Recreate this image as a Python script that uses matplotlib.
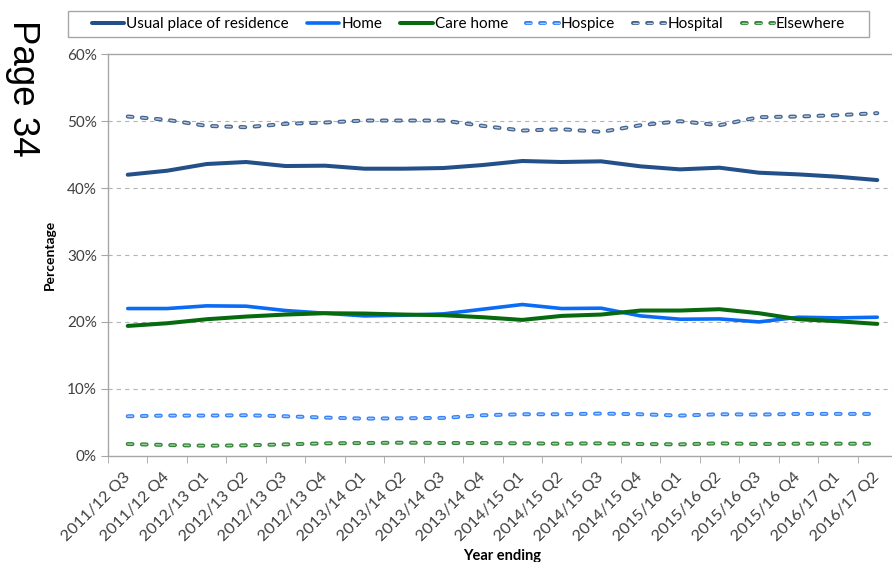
import matplotlib
matplotlib.use("Agg")
import matplotlib.pyplot as plt
from matplotlib.patches import Rectangle
from matplotlib.ticker import FixedLocator, FuncFormatter

plt.rcParams['font.family'] = ['Lato', 'DejaVu Sans']
plt.rcParams['lines.scale_dashes'] = False

quarters = [
    "2011/12 Q3", "2011/12 Q4", "2012/13 Q1", "2012/13 Q2", "2012/13 Q3",
    "2012/13 Q4", "2013/14 Q1", "2013/14 Q2", "2013/14 Q3", "2013/14 Q4",
    "2014/15 Q1", "2014/15 Q2", "2014/15 Q3", "2014/15 Q4", "2015/16 Q1",
    "2015/16 Q2", "2015/16 Q3", "2015/16 Q4", "2016/17 Q1", "2016/17 Q2",
]

usual_residence = [42.0, 42.6, 43.6, 43.9, 43.3, 43.35, 42.9, 42.9, 43.0, 43.45,
                   44.05, 43.9, 44.0, 43.25, 42.8, 43.05, 42.3, 42.05, 41.7, 41.2]
home = [22.0, 22.0, 22.4, 22.35, 21.7, 21.3, 20.9, 21.0, 21.2, 21.9,
        22.6, 22.0, 22.05, 20.9, 20.4, 20.45, 20.0, 20.7, 20.6, 20.7]
care_home = [19.4, 19.8, 20.4, 20.8, 21.1, 21.3, 21.25, 21.1, 21.0, 20.7,
             20.3, 20.9, 21.1, 21.7, 21.7, 21.9, 21.3, 20.4, 20.1, 19.7]
hospice = [5.9, 6.0, 6.0, 6.05, 5.9, 5.7, 5.55, 5.6, 5.65, 6.05,
           6.2, 6.2, 6.3, 6.2, 6.0, 6.2, 6.15, 6.25, 6.25, 6.25]
hospital = [50.7, 50.2, 49.3, 49.1, 49.6, 49.8, 50.1, 50.1, 50.1, 49.3,
            48.6, 48.8, 48.4, 49.4, 50.0, 49.4, 50.6, 50.7, 50.9, 51.2]
elsewhere = [1.75, 1.6, 1.5, 1.55, 1.7, 1.85, 1.9, 1.95, 1.9, 1.9,
             1.85, 1.8, 1.85, 1.75, 1.7, 1.85, 1.75, 1.8, 1.8, 1.8]

DASH = (0, (3.4, 6.8))


def outlined_dash(ax, x, y, edge, fill):
    # dark rounded dash with a pale core, drawn as two stacked lines
    outer, = ax.plot(x, y, color=edge, lw=2.9, linestyle=DASH,
                     dash_capstyle='round', solid_capstyle='round')
    inner, = ax.plot(x, y, color=fill, lw=1.0, linestyle=DASH,
                     dash_capstyle='round', solid_capstyle='round')
    return (outer, inner)


def main():
    W, H = 892, 562
    fig = plt.figure(figsize=(W / 100, H / 100), dpi=100)
    ax = fig.add_axes([0.1211, 0.1891, 0.8845, 0.7143])
    x = list(range(len(quarters)))

    h_usual, = ax.plot(x, usual_residence, color='#24508A', lw=2.9,
                       solid_capstyle='round', solid_joinstyle='round')
    h_home, = ax.plot(x, home, color='#0A6CF5', lw=2.6,
                      solid_capstyle='round', solid_joinstyle='round')
    h_care, = ax.plot(x, care_home, color='#086A0E', lw=2.9,
                      solid_capstyle='round', solid_joinstyle='round')
    h_hospice = outlined_dash(ax, x, hospice, '#3482F7', '#A9CAFF')
    h_hospital = outlined_dash(ax, x, hospital, '#42648F', '#BFCBDD')
    h_else = outlined_dash(ax, x, elsewhere, '#34853A', '#A3CFA3')

    ax.set_xlim(-0.5, len(quarters) - 0.5)
    ax.set_ylim(0, 60)

    # y axis: percentages with dashed grid
    ax.yaxis.set_major_locator(FixedLocator(range(0, 61, 10)))
    ax.yaxis.set_major_formatter(FuncFormatter(lambda v, p: f"{int(v)}%"))
    ax.tick_params(axis='y', direction='out', length=5, color='#A6A6A6',
                   labelsize=11, labelcolor='#404040', pad=3)
    for yv in range(10, 60, 10):
        ax.axhline(yv, color='#B3B3B3', lw=0.8, linestyle=(0, (3, 3)), zorder=0)

    # x axis: labels at category centres, tick marks on boundaries
    ax.set_xticks(x)
    ax.set_xticklabels(quarters, rotation=45, ha='right', va='center',
                       rotation_mode='anchor', fontsize=11.7, color='#404040')
    ax.tick_params(axis='x', which='major', length=0, pad=14)
    ax.xaxis.set_minor_locator(FixedLocator([i - 0.5 for i in range(len(quarters) + 1)]))
    ax.tick_params(axis='x', which='minor', direction='out', length=5, color='#A6A6A6')

    for side in ('left', 'bottom', 'top'):
        ax.spines[side].set_color('#A6A6A6')
        ax.spines[side].set_linewidth(1.0)
    ax.spines['right'].set_visible(False)

    ax.set_ylabel('Percentage', fontsize=10, fontweight='bold')
    ax.yaxis.set_label_coords(-0.0735, 0.5)
    ax.yaxis.label.set_va('center')
    ax.set_xlabel('Year ending', fontsize=10.5, fontweight='bold')
    ax.xaxis.set_label_coords(0.5, -0.249)
    ax.xaxis.label.set_va('center')

    handles = [h_usual, h_home, h_care, h_hospice, h_hospital, h_else]
    labels = ['Usual place of residence', 'Home', 'Care home',
              'Hospice', 'Hospital', 'Elsewhere']
    fig.legend(handles, labels, loc='center', bbox_to_anchor=(0.5252, 0.9573),
               ncol=6, fontsize=11, frameon=False,
               handlelength=2.1, handletextpad=0.15, columnspacing=1.2,
               borderpad=0.35, borderaxespad=0)
    # legend box
    fig.patches.append(Rectangle((68 / W, 1 - 37.3 / H), (869 - 68) / W, 26.6 / H,
                                 transform=fig.transFigure, fill=False,
                                 edgecolor='#A6A6A6', linewidth=1.0))

    fig.text(5 / W, 1 - 20 / H, 'Page 34', rotation=-90, ha='left', va='top',
             fontsize=26.5, family='Liberation Sans', color='black')

    fig.savefig('out.png', dpi=100)


if __name__ == "__main__":
    main()
